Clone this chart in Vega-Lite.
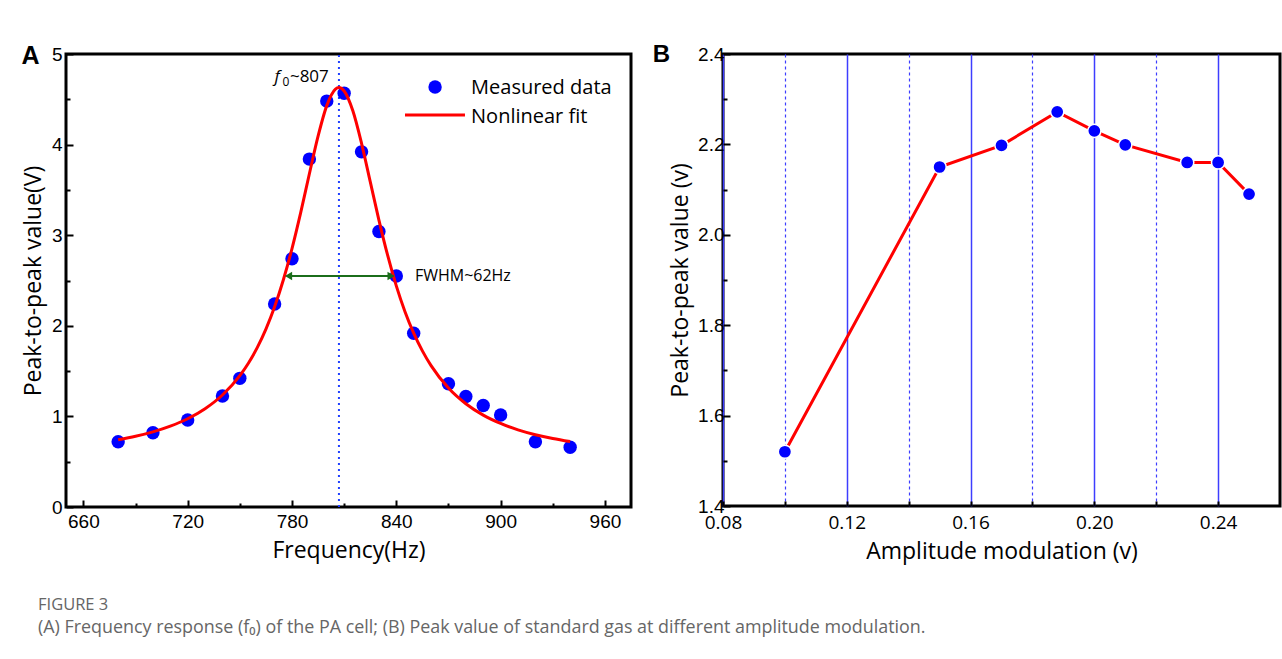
{
  "$schema": "https://vega.github.io/schema/vega-lite/v6.json",
  "background": "white",
  "padding": {"left": 20, "top": 41, "right": 0, "bottom": 10},
  "spacing": 18,
  "config": {
    "view": {"stroke": "black", "strokeWidth": 3},
    "axis": {
      "domain": false, "grid": false, "tickColor": "black", "tickWidth": 2, "labelFlush": false,
      "labelColor": "black", "titleColor": "black", "labelFont": "Liberation Sans",
      "labelFontSize": 19, "titleFont": "Open Sans", "titleFontSize": 23, "titleFontWeight": "normal"
    }
  },
  "title": {
    "text": "FIGURE 3",
    "subtitle": "(A) Frequency response (f₀) of the PA cell; (B) Peak value of standard gas at different amplitude modulation.",
    "orient": "bottom", "anchor": "start", "frame": "bounds",
    "font": "Open Sans", "fontSize": 16.5, "fontWeight": 500, "color": "#666666",
    "subtitleFont": "Open Sans", "subtitleFontSize": 17.9, "subtitleColor": "#666666",
    "offset": 32, "dx": 18, "subtitlePadding": 6
  },
  "hconcat": [
    {
      "width": 565,
      "height": 453,
      "encoding": {
        "x": {
          "field": "f", "type": "quantitative",
          "scale": {"domain": [650, 975], "nice": false, "zero": false},
          "axis": {
            "title": "Frequency(Hz)",
            "values": [660, 690, 720, 750, 780, 810, 840, 870, 900, 930, 960],
            "labelExpr": "datum.value % 60 === 0 ? datum.label : ''",
            "tickSize": {"condition": {"test": "datum.value % 60 === 0", "value": -7}, "value": -4},
            "labelPadding": 12, "titlePadding": 8
          }
        },
        "y": {
          "field": "v", "type": "quantitative",
          "scale": {"domain": [0, 5], "nice": false, "zero": false},
          "axis": {
            "title": "Peak-to-peak value(V)",
            "values": [0, 0.5, 1, 1.5, 2, 2.5, 3, 3.5, 4, 4.5, 5],
            "format": ".0f",
            "labelExpr": "datum.value % 1 === 0 ? datum.label : ''",
            "tickSize": {"condition": {"test": "datum.value % 1 === 0", "value": -7}, "value": -4},
            "labelPadding": 11, "titlePadding": 6
          }
        }
      },
      "layer": [
        {
          "data": {"values": [{"f": 807, "v": 0, "v2": 5}]},
          "mark": {"type": "rule", "color": "#1f3fff", "strokeWidth": 2, "strokeDash": [2, 4]},
          "encoding": {"y2": {"field": "v2"}}
        },
        {
          "data": {"values": [
            {"f": 680, "v": 0.72}, {"f": 700, "v": 0.82}, {"f": 720, "v": 0.96}, {"f": 740, "v": 1.225},
            {"f": 750, "v": 1.42}, {"f": 770, "v": 2.24}, {"f": 780, "v": 2.74}, {"f": 790, "v": 3.84},
            {"f": 800, "v": 4.48}, {"f": 810, "v": 4.566}, {"f": 820, "v": 3.92}, {"f": 830, "v": 3.04},
            {"f": 840, "v": 2.55}, {"f": 850, "v": 1.917}, {"f": 870, "v": 1.36}, {"f": 880, "v": 1.22},
            {"f": 890, "v": 1.12}, {"f": 900, "v": 1.015}, {"f": 920, "v": 0.72}, {"f": 940, "v": 0.66}
          ]},
          "mark": {"type": "circle", "color": "#0000ff", "size": 180, "opacity": 1}
        },
        {
          "data": {"values": [
            {"f": 680, "v": 0.742}, {"f": 690, "v": 0.78}, {"f": 700, "v": 0.829}, {"f": 710, "v": 0.892},
            {"f": 720, "v": 0.974}, {"f": 730, "v": 1.085}, {"f": 740, "v": 1.236}, {"f": 750, "v": 1.45},
            {"f": 755, "v": 1.59}, {"f": 760, "v": 1.759}, {"f": 765, "v": 1.963}, {"f": 770, "v": 2.209},
            {"f": 775, "v": 2.505}, {"f": 780, "v": 2.853}, {"f": 785, "v": 3.25}, {"f": 790, "v": 3.678},
            {"f": 795, "v": 4.093}, {"f": 800, "v": 4.43}, {"f": 805, "v": 4.613}, {"f": 807, "v": 4.63},
            {"f": 810, "v": 4.592}, {"f": 815, "v": 4.373}, {"f": 820, "v": 4.014}, {"f": 825, "v": 3.591},
            {"f": 830, "v": 3.167}, {"f": 835, "v": 2.779}, {"f": 840, "v": 2.441}, {"f": 845, "v": 2.156},
            {"f": 850, "v": 1.919}, {"f": 855, "v": 1.723}, {"f": 860, "v": 1.56}, {"f": 870, "v": 1.313},
            {"f": 880, "v": 1.14}, {"f": 890, "v": 1.014}, {"f": 900, "v": 0.922}, {"f": 910, "v": 0.852},
            {"f": 920, "v": 0.798}, {"f": 930, "v": 0.756}, {"f": 940, "v": 0.722}
          ]},
          "mark": {"type": "line", "color": "#ff0000", "strokeWidth": 3, "interpolate": "monotone"}
        },
        {
          "data": {"values": [{"f": 777, "f2": 838, "v": 2.55}]},
          "mark": {"type": "rule", "color": "#1b6d1b", "strokeWidth": 2},
          "encoding": {"x2": {"field": "f2"}}
        },
        {
          "data": {"values": [{"f": 778, "v": 2.55}]},
          "mark": {"type": "point", "shape": "triangle-left", "filled": true, "color": "#1b6d1b", "size": 70, "opacity": 1}
        },
        {
          "data": {"values": [{"f": 837, "v": 2.55}]},
          "mark": {"type": "point", "shape": "triangle-right", "filled": true, "color": "#1b6d1b", "size": 70, "opacity": 1}
        },
        {
          "data": {"values": [{"f": 850.7, "v": 2.498, "t": "FWHM~62Hz"}]},
          "mark": {"type": "text", "align": "left", "baseline": "alphabetic", "font": "Open Sans", "fontSize": 16, "color": "black"},
          "encoding": {"text": {"field": "t"}}
        },
        {
          "data": {"values": [{"f": 770, "v": 4.691, "t": "f"}]},
          "mark": {"type": "text", "align": "left", "baseline": "alphabetic", "font": "Open Sans", "fontStyle": "italic", "fontSize": 17, "color": "black"},
          "encoding": {"text": {"field": "t"}}
        },
        {
          "data": {"values": [{"f": 774.5, "v": 4.647, "t": "0"}]},
          "mark": {"type": "text", "align": "left", "baseline": "alphabetic", "font": "Open Sans", "fontSize": 12, "color": "black"},
          "encoding": {"text": {"field": "t"}}
        },
        {
          "data": {"values": [{"f": 778.8, "v": 4.691, "t": "~807"}]},
          "mark": {"type": "text", "align": "left", "baseline": "alphabetic", "font": "Open Sans", "fontSize": 17, "color": "black"},
          "encoding": {"text": {"field": "t"}}
        },
        {
          "data": {"values": [{"f": 862.3, "v": 4.636}]},
          "mark": {"type": "circle", "color": "#0000ff", "size": 180, "opacity": 1}
        },
        {
          "data": {"values": [{"f": 845, "f2": 879.5, "v": 4.327}]},
          "mark": {"type": "rule", "color": "#ff0000", "strokeWidth": 3},
          "encoding": {"x2": {"field": "f2"}}
        },
        {
          "data": {"values": [{"f": 883, "v": 4.555, "t": "Measured data"}, {"f": 883, "v": 4.242, "t": "Nonlinear fit"}]},
          "mark": {"type": "text", "align": "left", "baseline": "alphabetic", "font": "Open Sans", "fontSize": 20, "color": "black"},
          "encoding": {"text": {"field": "t"}}
        },
        {
          "data": {"values": [{"f": 629.6, "v": 4.978, "t": "A"}]},
          "mark": {"type": "text", "align": "center", "baseline": "middle", "font": "Liberation Sans", "fontWeight": "bold", "fontSize": 25, "color": "black"},
          "encoding": {"text": {"field": "t"}}
        }
      ]
    },
    {
      "width": 557,
      "height": 452,
      "encoding": {
        "x": {
          "field": "a", "type": "quantitative",
          "scale": {"domain": [0.08, 0.26], "nice": false, "zero": false},
          "axis": {
            "title": "Amplitude modulation (v)",
            "values": [0.08, 0.10, 0.12, 0.14, 0.16, 0.18, 0.20, 0.22, 0.24],
            "format": ".2f",
            "labelExpr": "round(datum.value*100) % 4 === 0 ? datum.label : ''",
            "labelFont": "Open Sans",
            "grid": true, "gridColor": "#3d3dff",
            "gridWidth": {"condition": {"test": "round(datum.value*100) % 4 === 0", "value": 1.5}, "value": 1.2},
            "gridDash": {"condition": {"test": "round(datum.value*100) % 4 === 0", "value": []}, "value": [3, 3]},
            "tickSize": -5, "labelPadding": 12, "titlePadding": 8
          }
        },
        "y": {
          "field": "v", "type": "quantitative",
          "scale": {"domain": [1.4, 2.4], "nice": false, "zero": false},
          "axis": {
            "title": "Peak-to-peak value (v)",
            "values": [1.4, 1.5, 1.6, 1.7, 1.8, 1.9, 2.0, 2.1, 2.2, 2.3, 2.4],
            "format": ".1f",
            "labelExpr": "round(datum.value*10) % 2 === 0 ? datum.label : ''",
            "tickSize": {"condition": {"test": "round(datum.value*10) % 2 === 0", "value": -7}, "value": -4},
            "labelPadding": 6, "titlePadding": 5
          }
        }
      },
      "layer": [
        {
          "data": {"name": "pb", "values": [
            {"a": 0.10, "v": 1.52}, {"a": 0.15, "v": 2.15}, {"a": 0.17, "v": 2.198}, {"a": 0.188, "v": 2.272},
            {"a": 0.20, "v": 2.23}, {"a": 0.21, "v": 2.199}, {"a": 0.23, "v": 2.16}, {"a": 0.24, "v": 2.16},
            {"a": 0.25, "v": 2.09}
          ]},
          "mark": {"type": "line", "color": "#ff0000", "strokeWidth": 3}
        },
        {
          "data": {"name": "pb"},
          "mark": {"type": "circle", "color": "#0000ff", "size": 175, "opacity": 1, "stroke": "white", "strokeWidth": 1.5}
        },
        {
          "data": {"values": [{"a": 0.0601, "v": 2.397, "t": "B"}]},
          "mark": {"type": "text", "align": "center", "baseline": "middle", "font": "Liberation Sans", "fontWeight": "bold", "fontSize": 24, "color": "black"},
          "encoding": {"text": {"field": "t"}}
        }
      ]
    }
  ]
}
